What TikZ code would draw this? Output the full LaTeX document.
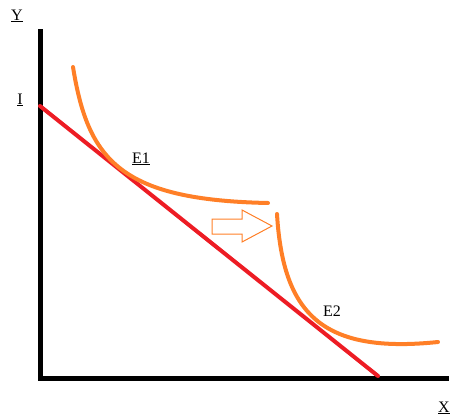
\documentclass[tikz,border=0pt]{standalone}
\usepackage{fontspec}
\setmainfont{Liberation Serif}
\usepackage{tikz}
\usetikzlibrary{positioning}
\definecolor{axisc}{HTML}{000000}
\definecolor{budgetc}{HTML}{ED1C24}
\definecolor{indiffc}{HTML}{FF7F27}
\tikzset{
  axis/.style  ={draw=axisc,line width=5pt,line cap=rect},
  budget/.style={draw=budgetc,line width=4pt,line cap=round},
  indiff/.style={draw=indiffc,line width=4pt,line cap=round},
  shiftar/.style={draw=indiffc,line width=1pt,line join=miter},
  lbl/.style   ={font=\fontsize{16}{18}\selectfont,text=black,inner sep=0pt},
}
\begin{document}
\begin{tikzpicture}[x=1pt,y=-1pt]
\useasboundingbox (0,0) rectangle (472,420);

% ---- axes ----------------------------------------------------------------
\coordinate (o)  at (40,378);
\coordinate (yt) at (40,32);
\coordinate (xt) at (446,378);
\draw[axis](yt)--(o)--(xt);
\node[lbl] (ly) at (17,16)  {\underline{Y}};
\node[lbl] (lx) at (444,408) {\underline{X}};

% ---- budget line ---------------------------------------------------------
\coordinate (bi) at (40,106);
\coordinate (bx) at (378,376);
\draw[budget](bi)--(bx);
\node[lbl] (li) at (20,100) {\underline{I}};

% ---- indifference curves -------------------------------------------------
\coordinate (a0) at (73,67);
\coordinate (a1) at (268,203);
\draw[indiff](a0) .. controls (88,160) and (120,200) .. (a1);
\node[lbl] (le1) at (141,159) {\underline{E1}};

\coordinate (b0) at (277,214);
\coordinate (b1) at (438,342);
\draw[indiff](b0) .. controls (283,314) and (322,354) .. (b1);
\node[lbl] (le2) at (332,311) {E2};

% ---- shift arrow ---------------------------------------------------------
\draw[shiftar](212,219)--(242,219)--(242,210)--(272,226)--(242,242)--(242,234)--(212,234)--cycle;
\end{tikzpicture}
\end{document}
